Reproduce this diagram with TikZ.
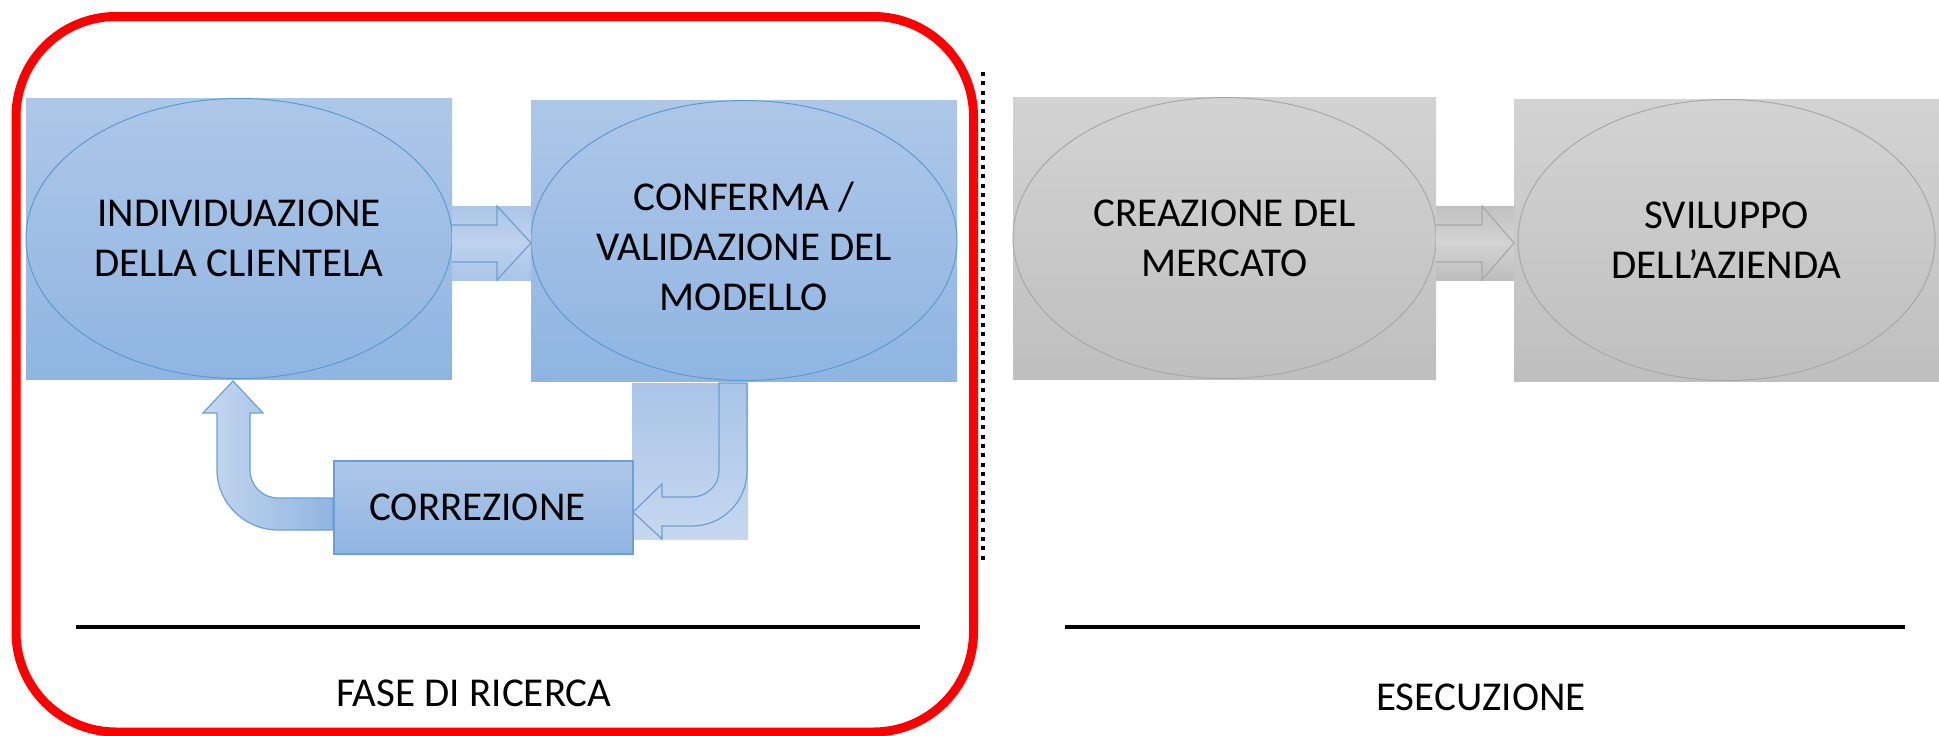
\documentclass[tikz,border=0pt]{standalone}
\usepackage{fontspec}
\setmainfont{Carlito}
\usetikzlibrary{shapes.geometric,calc}
\definecolor{bluetop}{HTML}{AEC7E8}
\definecolor{bluebot}{HTML}{8FB5E2}
\definecolor{blueline}{HTML}{5B9BD5}
\definecolor{blueedge}{HTML}{6A9FD8}
\definecolor{graytop}{HTML}{D3D3D3}
\definecolor{graybot}{HTML}{BFBFBF}
\definecolor{grayline}{HTML}{A8A8A8}
\tikzset{
  bluebox/.style={rectangle, inner sep=0pt, outer sep=0pt, top color=bluetop, bottom color=bluebot, draw=none},
  graybox/.style={rectangle, inner sep=0pt, outer sep=0pt, top color=graytop, bottom color=graybot, draw=none},
  blueell/.style={ellipse, inner sep=0pt, outer sep=0pt, draw=blueline, line width=0.5pt, align=center, font=\fontsize{20.5}{25}\selectfont},
  grayell/.style={ellipse, inner sep=0pt, outer sep=0pt, draw=grayline, line width=0.5pt, align=center, font=\fontsize{20.5}{25}\selectfont},
  lbl/.style={font=\fontsize{20.5}{25}\selectfont, inner sep=0pt},
  rule/.style={line width=1.75pt, black},
}
\begin{document}
\begin{tikzpicture}[x=0.5pt, y=-0.5pt]
\useasboundingbox (0,0) rectangle (1939,735);

% red frame
\draw[red, line width=4.5pt, rounded corners=50pt] (16,16.5) rectangle (973.5,732);

% dotted separator
\coordinate (dtop) at (983,72);
\coordinate (dbot) at (983,563);
\draw[line width=2pt, dash pattern=on 2pt off 2.65pt] (dtop) -- (dbot);

% blue boxes
\node[bluebox, minimum width=213pt, minimum height=140.5pt] (b1) at (239,238.5) {};
\node[blueell, minimum width=213pt, minimum height=140pt] (e1) at (b1.center) {INDIVIDUAZIONE\\DELLA CLIENTELA};
\node[bluebox, minimum width=213pt, minimum height=140.5pt] (b2) at (744,240.5) {};
\node[blueell, minimum width=213pt, minimum height=140pt] (e2) at (b2.center) {};
\node[lbl, align=center, yshift=-3pt] (t2) at (b2.center) {CONFERMA /\\VALIDAZIONE DEL\\MODELLO};

% gray boxes
\node[graybox, minimum width=211.5pt, minimum height=141pt] (g1) at (1224.5,238) {};
\node[grayell, minimum width=211.5pt, minimum height=140.5pt] (f1) at (g1.center) {CREAZIONE DEL\\MERCATO};
\node[graybox, minimum width=212.5pt, minimum height=141pt] (g2) at (1726.5,240) {};
\node[grayell, minimum width=208.5pt, minimum height=140.5pt] (f2) at (g2.center) {SVILUPPO\\DELL’AZIENDA};

% blue block arrow b1 -> b2
\begin{scope}[shift={(b1.east)}]
  \shade[top color=bluetop!95!bluebot, bottom color=bluetop!85!bluebot, middle color=bluetop!80!white] (0,-32.5) rectangle (79,41.5);
  \draw[blueedge, line width=0.6pt, line join=miter] (0,-13.5) -- (45,-13.5) -- (45,-32.5) -- (79,4.5) -- (45,41.5) -- (45,23.5) -- (0,23.5);
\end{scope}

% gray block arrow g1 -> g2
\begin{scope}[shift={(g1.east)}]
  \shade[top color=graytop!90!black!95, bottom color=graytop!88!black!95, middle color=graytop] (0,-32) rectangle (78,42);
  \draw[grayline, line width=0.6pt] (0,-13) -- (46,-13) -- (46,-32) -- (78,5) -- (46,42) -- (46,24) -- (0,24);
\end{scope}

% right U arrow (b2 -> correction)
\shade[top color=bluetop!85!bluebot, bottom color=bluetop!70!white] (632,383) rectangle (748,539);
\draw[blueedge, line width=0.6pt, line join=miter]
  (747,383) -- (747,471) .. controls (747,501.4) and (722.4,526) .. (692,526)
  -- (662,526) -- (662,539) -- (633,512) -- (662,484) -- (662,497) -- (692,497)
  .. controls (706.9,497) and (719,484.9) .. (719,471) -- (719,383) -- cycle;

% correction box
\node[bluebox, draw=blueedge, line width=0.75pt, minimum width=149.5pt, minimum height=46.5pt, font=\fontsize{20.5}{25}\selectfont] (c) at (483.5,507.5) {\hspace*{-6pt}CORREZIONE};

% left U arrow (correction -> b1)
\shade[left color=bluetop!70!white, right color=bluebot, draw=blueedge, line width=0.6pt, line join=miter]
  (233,381) -- (263,413) -- (250,413) -- (250,470) .. controls (250,485.5) and (262.5,498) .. (278,498)
  -- (333,498) -- (333,530) -- (278,530) .. controls (244.9,530) and (217,503.1) .. (217,470)
  -- (217,413) -- (203,413) -- cycle;

% baselines
\coordinate (l1a) at (76,627);
\coordinate (l1b) at (920,627);
\coordinate (l2a) at (1065,627);
\coordinate (l2b) at (1905,627);
\draw[rule] (l1a) -- (l1b);
\draw[rule] (l2a) -- (l2b);

\node[lbl] (fase) at (474,693) {FASE DI RICERCA};
\node[lbl] (esec) at (1481,697) {ESECUZIONE};
\end{tikzpicture}
\end{document}
